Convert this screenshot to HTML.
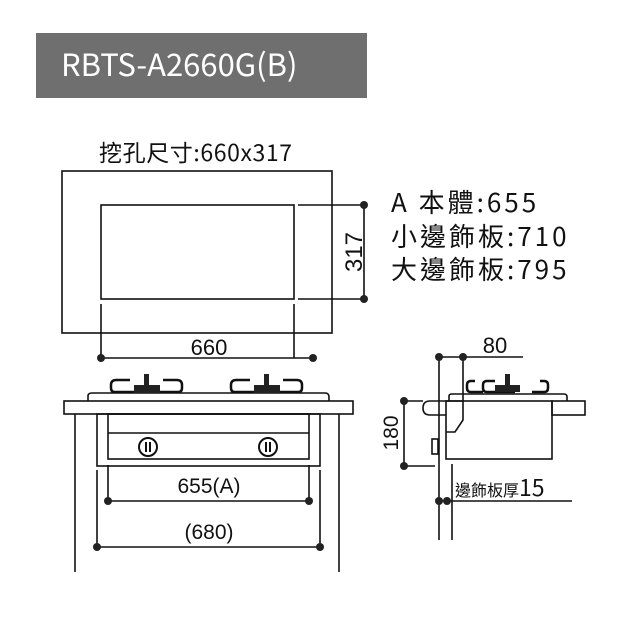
<!DOCTYPE html>
<html><head><meta charset="utf-8"><style>
html,body{margin:0;padding:0;background:#fff}
svg{display:block}
text{font-family:"Liberation Sans","Noto Sans CJK TC",sans-serif;fill:#111}
.cjk{font-family:"Noto Sans CJK TC",sans-serif}
</style></head><body>
<svg width="640" height="640" viewBox="0 0 640 640" xmlns="http://www.w3.org/2000/svg">
<rect x="36" y="33" width="331" height="65" fill="#6f6f6f"/>
<text class="cjk" x="61" y="76" font-size="31" style="fill:#fff">RBTS-A2660G(B)</text>
<text class="cjk" x="99" y="161" font-size="23" letter-spacing="0.6">挖孔尺寸:660x317</text>
<g stroke="#111" stroke-width="1.6" fill="none">
<rect x="62" y="171" width="270" height="162"/>
<rect x="101" y="205" width="193" height="94"/>
<line x1="298" y1="205" x2="364" y2="205"/>
<line x1="298" y1="299" x2="364" y2="299"/>
<line x1="364" y1="205" x2="364" y2="299"/>
<line x1="101" y1="304" x2="101" y2="358"/>
<line x1="294" y1="304" x2="294" y2="358"/>
<line x1="101" y1="358" x2="313" y2="358"/>
</g>
<g fill="#222">
<circle cx="364" cy="205" r="4"/><circle cx="364" cy="299" r="4"/>
<circle cx="101" cy="358" r="4"/><circle cx="313" cy="358" r="4"/>
</g>
<text font-size="24" transform="translate(362,252) rotate(-90)" text-anchor="middle">317</text>
<text x="209" y="355" font-size="22" text-anchor="middle">660</text>
<text class="cjk" x="391" y="212" font-size="26" letter-spacing="3">A 本體:655</text>
<text class="cjk" x="391" y="246" font-size="26" letter-spacing="3">小邊飾板:710</text>
<text class="cjk" x="391" y="279" font-size="26" letter-spacing="3">大邊飾板:795</text>

<!-- front view -->
<g stroke="#111" stroke-width="1.6" fill="none">
<path d="M88 401 L88 396 Q88 393 92 393 L325 393 Q329 393 329 397 L329 401"/>
<rect x="64" y="401" width="289" height="13"/>
<rect x="97" y="414" width="223" height="52"/>
<rect x="108" y="414" width="201" height="45"/>
<line x1="108" y1="433" x2="309" y2="433"/>
<line x1="75" y1="414" x2="75" y2="572"/>
<line x1="339" y1="414" x2="339" y2="572"/>
<line x1="108" y1="465" x2="108" y2="501"/>
<line x1="309" y1="465" x2="309" y2="501"/>
<line x1="108" y1="501" x2="309" y2="501"/>
<line x1="97" y1="470" x2="97" y2="547"/>
<line x1="320" y1="470" x2="320" y2="547"/>
<line x1="97" y1="547" x2="320" y2="547"/>
</g>
<g stroke="#111" stroke-width="2" fill="none">
<circle cx="148" cy="447" r="9"/><circle cx="268" cy="447" r="9"/>
<line x1="146" y1="442" x2="146" y2="452"/><line x1="150" y1="442" x2="150" y2="452"/>
<line x1="266" y1="442" x2="266" y2="452"/><line x1="270" y1="442" x2="270" y2="452"/>
</g>
<g fill="none" stroke="#111" stroke-width="2.5">
<path d="M130 380 h-14 q-5 0 -5 5 v3 q0 4 4 4 h22"/><path d="M163 380 h14 q5 0 5 5 v3 q0 4 -4 4 h-22"/>
<path d="M250 380 h-14 q-5 0 -5 5 v3 q0 4 4 4 h22"/><path d="M283 380 h14 q5 0 5 5 v3 q0 4 -4 4 h-22"/>
</g>
<g fill="#222">
<rect x="134" y="385" width="26" height="8"/><rect x="144" y="374" width="5" height="11"/>
<rect x="254" y="385" width="26" height="8"/><rect x="264" y="374" width="5" height="11"/>
<circle cx="108" cy="501" r="4"/><circle cx="309" cy="501" r="4"/>
<circle cx="97" cy="547" r="4"/><circle cx="320" cy="547" r="4"/>
</g>
<text x="209" y="493" font-size="21" text-anchor="middle">655(A)</text>
<text x="209" y="539" font-size="21" text-anchor="middle">(680)</text>

<!-- side view -->
<g stroke="#111" stroke-width="1.6" fill="none">
<path d="M449 401 L449 396 Q449 394 452 394 L564 394 Q567 394 567 397 L567 401"/>
<path d="M463 401 L430 401 Q423 401 423 408 Q423 415 430 415 L446 415"/>
<path d="M463 401 L463 420 L455 432 L446 432"/>
<rect x="446" y="401" width="106" height="58"/>
<rect x="552" y="401" width="33" height="14"/>
<rect x="432" y="439" width="6" height="15"/>
<line x1="439" y1="357" x2="439" y2="540"/>
<line x1="452" y1="464" x2="452" y2="540"/>
<line x1="463" y1="357" x2="463" y2="401"/>
<line x1="439" y1="357" x2="523" y2="357"/>
<line x1="404" y1="401" x2="423" y2="401"/>
<line x1="404" y1="466" x2="435" y2="466"/>
<line x1="404" y1="401" x2="404" y2="466"/>
<line x1="439" y1="501" x2="572" y2="501"/>
</g>
<g fill="none" stroke="#111" stroke-width="2.5">
<path d="M475 381 h-4 q-4 0 -4 4 v3 q0 4 4 4 h12"/><path d="M540 381 h4 q4 0 4 4 v3 q0 4 -4 4 h-12"/>
<path d="M495 381 h-8 q-4 0 -4 4 v3 q0 4 4 4 h28"/>
</g>
<g fill="#222">
<rect x="495" y="385" width="25" height="7"/><rect x="505" y="374" width="5" height="11"/>
<circle cx="439" cy="357" r="4"/><circle cx="463" cy="357" r="4"/>
<circle cx="404" cy="401" r="4"/><circle cx="404" cy="466" r="4"/>
<circle cx="439" cy="501" r="4"/><circle cx="447" cy="501" r="4"/>
</g>
<text x="495" y="353" font-size="22" text-anchor="middle">80</text>
<text font-size="21" transform="translate(398,433) rotate(-90)" text-anchor="middle">180</text>
<text x="455" y="496" font-size="16" class="cjk">邊飾板厚<tspan font-size="23">15</tspan></text>
</svg>
</body></html>
